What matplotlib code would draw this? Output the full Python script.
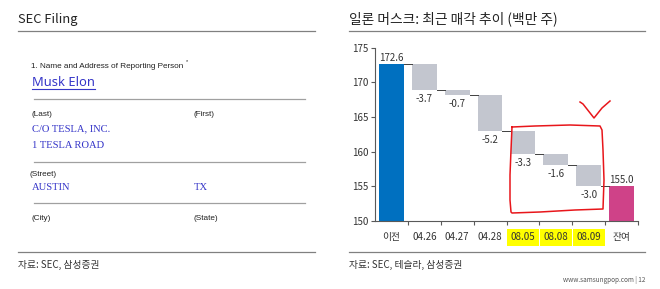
import numpy as np
import matplotlib.pyplot as plt

plt.rcParams['font.family'] = ['Noto Sans CJK KR', 'DejaVu Sans']

# waterfall data (million shares)
categories = ['이전', '04.26', '04.27', '04.28', '08.05', '08.08', '08.09', '잔여']
start_value = 172.6
changes = [-3.7, -0.7, -5.2, -3.3, -1.6, -3.0]
end_value = 155.0
highlighted = ['08.05', '08.08', '08.09']

blue = '#0070C0'
gray = '#C3C6CF'
pink = '#CF4288'
text_c = '#333333'
form_blue = '#3535C8'

fig = plt.figure(figsize=(6.6, 2.89), dpi=100)

# overlay in pixel coords for the page furniture
ov = fig.add_axes([0, 0, 1, 1])
ov.set_xlim(0, 660)
ov.set_ylim(289, 0)
ov.axis('off')

# headers
ov.text(18, 19, 'SEC Filing', fontsize=9.3, color='#222222', va='center')
ov.text(349, 19, '일론 머스크: 최근 매각 추이 (백만 주)', fontsize=9.9, color='#222222', va='center')
for x0, x1 in [(18, 315), (349, 645)]:
    ov.plot([x0, x1], [31, 31], color='#808080', lw=0.9)
    ov.plot([x0, x1], [252, 252], color='#808080', lw=0.9)
ov.text(18, 265, '자료: SEC, 삼성증권', fontsize=7, color=text_c, va='center')
ov.text(349, 265, '자료: SEC, 테슬라, 삼성증권', fontsize=7, color=text_c, va='center')
ov.text(645, 280, 'www.samsungpop.com | 12', fontsize=4.6, color='#555555',
        va='center', ha='right')

# SEC form snippet
lab = dict(fontsize=5.9, color='#222222', va='center', family='Liberation Sans')
val = dict(fontsize=7.6, color=form_blue, va='center', family='Liberation Serif')
ov.text(31, 66, '1. Name and Address of Reporting Person', **lab)
ov.text(185.5, 62, '*', fontsize=4, color='#222222', va='center', family='Liberation Sans')
ov.text(32, 82, 'Musk Elon', fontsize=9.3, color=form_blue, va='center', family='Noto Sans')
ov.plot([32, 95], [89, 89], color=form_blue, lw=0.8)
for y in [99, 162, 203]:
    ov.plot([34, 305], [y, y], color='#A0A0A0', lw=0.9)
ov.text(32, 115, '(Last)', **lab)
ov.text(194, 115, '(First)', **lab)
ov.text(32, 129, 'C/O TESLA, INC.', **val)
ov.text(32, 145, '1 TESLA ROAD', **val)
ov.text(30, 174, '(Street)', **lab)
ov.text(32, 187, 'AUSTIN', **val)
ov.text(194, 187, 'TX', **val)
ov.text(32, 218, '(City)', **lab)
ov.text(194, 218, '(State)', **lab)

# waterfall chart
ax = fig.add_axes([375 / 660, 1 - 221 / 289, 263 / 660, 173.5 / 289])
ax.patch.set_alpha(0)
n = len(categories)
x = np.arange(n)
w = 0.75

levels = start_value + np.concatenate([[0], np.cumsum(changes)])
ax.bar(0, start_value - 150, bottom=150, width=w, color=blue)
for i, d in enumerate(changes):
    top = levels[i]
    bot = levels[i + 1]
    ax.bar(i + 1, top - bot, bottom=bot, width=w, color=gray)
    ax.annotate(f'{d:.1f}', (i + 1, bot), xytext=(0, -3), textcoords='offset points',
                ha='center', va='top', fontsize=7, color=text_c)
ax.bar(n - 1, end_value - 150, bottom=150, width=w, color=pink)

ax.annotate(f'{start_value:.1f}', (0, start_value), xytext=(0, 1), textcoords='offset points',
            ha='center', va='bottom', fontsize=7, color=text_c)
ax.annotate(f'{end_value:.1f}', (n - 1, end_value), xytext=(0, 1), textcoords='offset points',
            ha='center', va='bottom', fontsize=7, color=text_c)

# connectors
for i in range(n - 1):
    ax.plot([i + w / 2, i + 1 - w / 2], [levels[i], levels[i]], color='#404040', lw=0.7)

ax.set_xlim(-0.5, n - 0.5)
ax.set_ylim(150, 175)
ax.set_yticks(np.arange(150, 176, 5))
ax.set_xticks(x)
ax.set_xticklabels(categories)
ax.set_xticks(np.arange(0.5, n, 1), minor=True)
ax.tick_params(axis='x', which='major', length=0, pad=8, labelsize=7, labelcolor=text_c)
ax.tick_params(axis='x', which='minor', length=3, color='#595959', width=0.8)
ax.tick_params(axis='y', length=3, pad=1.5, labelsize=7, labelcolor=text_c,
               color='#595959', width=0.8)
for s in ['top', 'right']:
    ax.spines[s].set_visible(False)
for s in ['left', 'bottom']:
    ax.spines[s].set_color('#595959')
    ax.spines[s].set_linewidth(0.8)
for t in ax.get_xticklabels():
    if t.get_text() in highlighted:
        t.set_bbox(dict(facecolor='#FFFF00', edgecolor='none', pad=2.5))

# red hand-drawn markup on top
top_ov = fig.add_axes([0, 0, 1, 1])
top_ov.set_xlim(0, 660)
top_ov.set_ylim(289, 0)
top_ov.axis('off')
top_ov.plot([512, 511, 510, 510, 511, 512, 540, 575, 603, 604, 603, 602, 600, 570, 535, 512],
            [127, 150, 175, 200, 212, 213, 212, 210, 209, 180, 150, 130, 126, 125, 126, 127],
            color='#E8161B', lw=1.1)
top_ov.plot([580, 583, 594, 602, 610], [102, 104, 118, 108, 101], color='#E8161B', lw=1.1)

fig.savefig('out.png', dpi=100)
